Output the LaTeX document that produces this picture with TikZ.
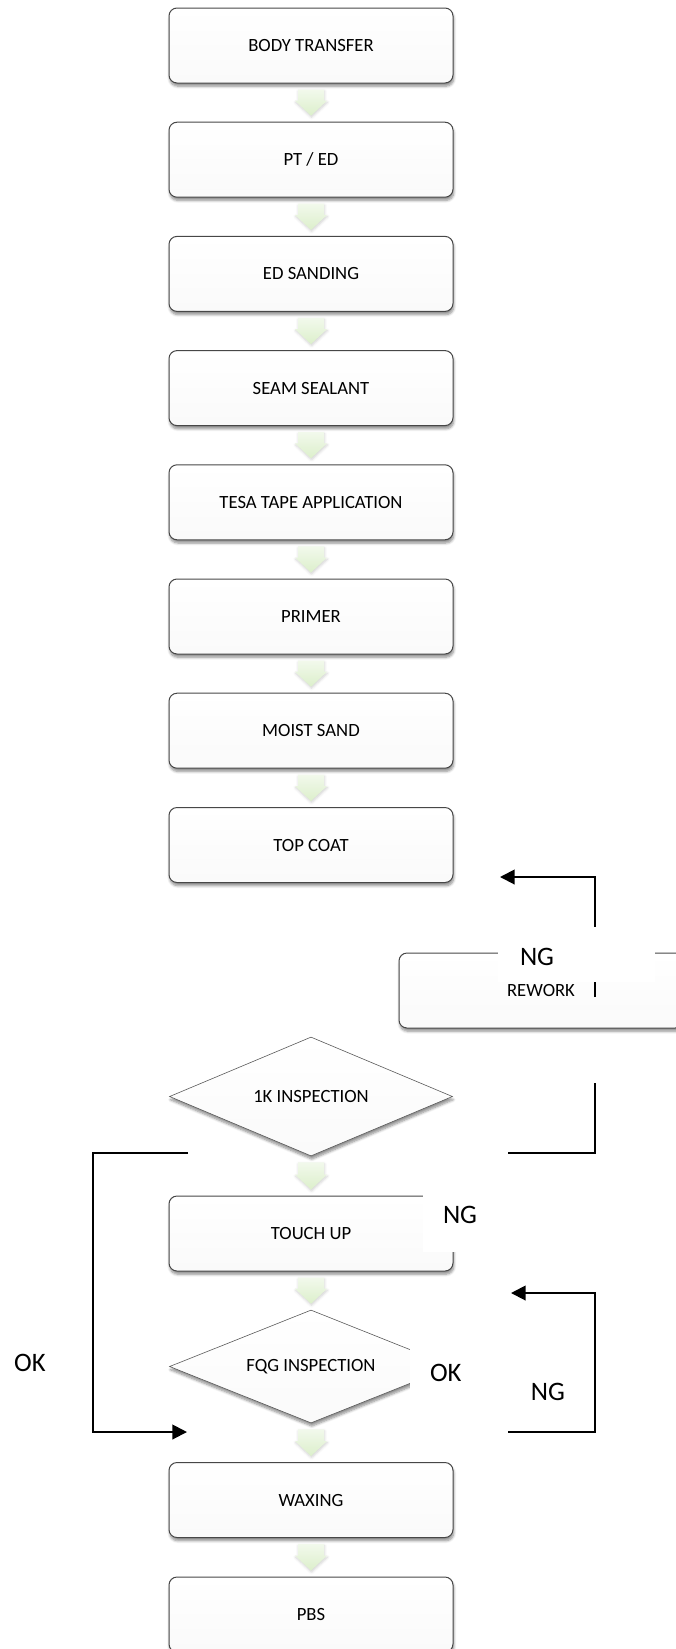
\documentclass[tikz,border=0pt]{standalone}
\usepackage{fontspec}
\setmainfont{Carlito}
\usetikzlibrary{shapes.geometric,shadows.blur,arrows.meta,calc}

\definecolor{boxline}{HTML}{474747}
\definecolor{diamline}{HTML}{5A5A5A}
\definecolor{arrowtop}{HTML}{F2F9EC}
\definecolor{arrowbot}{HTML}{DCEFCB}

\tikzset{
  softshadow/.style={blur shadow={shadow xshift=0.6pt, shadow yshift=-2.4pt,
      shadow opacity=45, shadow blur steps=6}},
  stepbox/.style={draw=boxline, line width=0.75pt, rounded corners=6pt,
      minimum width=213pt, minimum height=56.25pt, inner sep=0pt,
      top color=white, bottom color=gray!4, softshadow,
      font=\fontsize{14}{16}\selectfont},
  decision/.style={diamond, draw=diamline, line width=0.45pt, aspect=2.4,
      minimum width=212.25pt, inner sep=0pt,
      top color=white, bottom color=gray!4, softshadow,
      font=\fontsize{14}{16}\selectfont},
  link/.style={line width=1.5pt, black},
  linkarrow/.style={link, -{Triangle[length=11pt,width=11pt]}},
  bigtag/.style={font=\fontsize{20}{24}\selectfont, inner sep=0pt},
  patch/.style={fill=white, draw=none, inner sep=0pt, minimum width=117.75pt},
}

% pale green block arrow from the bottom of one step to the top of the next
\newcommand\flowstep[2]{%
  \shade[top color=arrowtop, bottom color=arrowbot,
         blur shadow={shadow xshift=0.4pt, shadow yshift=-1.2pt, shadow opacity=18}]
    ($(#1.south)+(-13,6)$) -- ($(#1.south)+(13,6)$) --
    ($(#2.north)+(13,-21)$) -- ($(#2.north)+(16,-21)$) --
    ($(#2.north)+(0,-6)$) --
    ($(#2.north)+(-16,-21)$) -- ($(#2.north)+(-13,-21)$) -- cycle;}

\begin{document}
\begin{tikzpicture}[x=0.75pt, y=-0.75pt]
\useasboundingbox (0,0) rectangle (675,1649);

% process steps
\node[stepbox] (body)    at (311,45.5)  {BODY TRANSFER};
\node[stepbox] (pted)    at (311,159.7) {PT / ED};
\node[stepbox] (edsand)  at (311,273.9) {ED SANDING};
\node[stepbox] (seam)    at (311,388.1) {SEAM SEALANT};
\node[stepbox] (tesa)    at (311,502.3) {TESA TAPE APPLICATION};
\node[stepbox] (primer)  at (311,616.5) {PRIMER};
\node[stepbox] (moist)   at (311,730.7) {MOIST SAND};
\node[stepbox] (topcoat) at (311,845)   {TOP COAT};
\node[stepbox] (rework)  at (541,990.5) {REWORK};
\node[decision, minimum height=89.25pt] (insp) at (311,1096.5) {1K INSPECTION};
\node[stepbox] (touchup) at (311,1233.5) {TOUCH UP};
\node[decision, minimum height=84.75pt] (fqg) at (311,1366.5) {FQG INSPECTION};
\node[stepbox] (waxing)  at (311,1500)  {WAXING};
\node[stepbox] (pbs)     at (311,1614.5) {PBS};

% main flow
\flowstep{body}{pted}
\flowstep{pted}{edsand}
\flowstep{edsand}{seam}
\flowstep{seam}{tesa}
\flowstep{tesa}{primer}
\flowstep{primer}{moist}
\flowstep{moist}{topcoat}
\flowstep{insp}{touchup}
\flowstep{touchup}{fqg}
\flowstep{fqg}{waxing}
\flowstep{waxing}{pbs}

% loop connectors
\coordinate (rwtail) at (595,997);
\coordinate (rwtip)  at (500,877);
\draw[linkarrow] (rwtail) |- (rwtip);

\coordinate (ngA) at (508,1153);
\coordinate (ngB) at (595,1083);
\draw[link] (ngA) -| (ngB);

\coordinate (okA)    at (188,1153);
\coordinate (okLeft) at (93,1153);
\coordinate (okTip)  at (187,1432);
\draw[linkarrow] (okA) -- (okLeft) |- (okTip);

\coordinate (fqA)    at (508,1432);
\coordinate (fqTurn) at (595,1293);
\coordinate (fqTip)  at (511,1293);
\draw[linkarrow] (fqA) -| (fqTurn) -- (fqTip);

% labels on white text frames
\node[patch, minimum height=41.25pt] (pRework) at (576.5,954.5) {};
\node[bigtag, anchor=west] (ngRework) at ($(pRework.west)+(22,2)$) {NG};
\node[patch, minimum height=55.5pt] (pTouch) at (501.5,1215) {};
\node[bigtag, anchor=west] (ngTouch) at ($(pTouch.west)+(20,0)$) {NG};
\node[patch, minimum height=43.5pt] (pFqg) at (488.5,1373) {};
\node[bigtag, anchor=west] (okFqg) at ($(pFqg.west)+(20,0)$) {OK};

% free labels
\node[bigtag] (okOuter) at (30,1363) {OK};
\node[bigtag] (ngOuter) at (548,1392) {NG};
\end{tikzpicture}
\end{document}
